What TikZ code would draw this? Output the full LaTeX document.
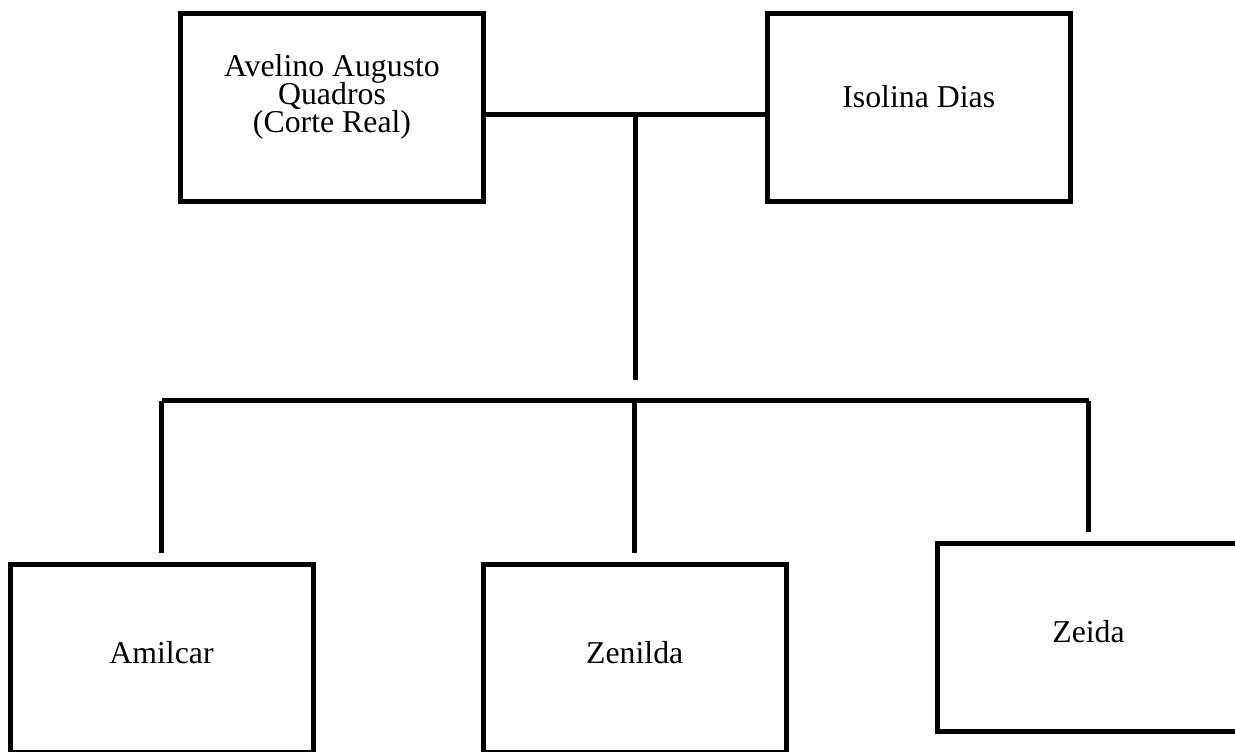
\documentclass[tikz,border=0pt]{standalone}
\usepackage{fontspec}
\setmainfont{Liberation Serif}
\newcommand{\boxfont}{\fontsize{15.9pt}{14pt}\selectfont\setlength{\lineskiplimit}{-20pt}}

\begin{document}
\begin{tikzpicture}[
        x=0.5pt, y=-0.5pt,
        person/.style={
            draw,
            line width=2.5pt,
            minimum width=151.5pt,
            minimum height=94.25pt,
            inner sep=0pt,
            align=center,
            font=\boxfont
        },
        link/.style={line width=2.5pt}
    ]
        \useasboundingbox (0,0) rectangle (1235,751);

        \node[person, text height=48pt, text depth=23.25pt] (avelino) at (332,107.25) {Avelino Augusto\\Quadros\\(Corte Real)};
        \node[person, text height=10pt, text depth=10pt] (isolina) at (918.75,107.5) {Isolina Dias};

        \node[person, text height=12pt, text depth=7pt] (amilcar) at (161.5,658.5) {Amilcar};
        \node[person, text height=12pt, text depth=7pt] (zenilda) at (634.75,658.5) {Zenilda};
        \node[person, text height=12pt, text depth=7pt] (zeida) at (1088.5,637.5) {Zeida};

        \coordinate (couple) at (635,114.7);
        \coordinate (trunk) at (635,380);
        \coordinate (bar) at (635,400.5);

        \draw[link] (avelino.east |- couple) -- (isolina.west |- couple);
        \draw[link] (couple) -- (trunk);
        \draw[link] (amilcar.north |- bar) -- (zeida.north |- bar);
        \foreach \kid in {amilcar,zenilda,zeida} {
            \draw[link] (\kid.north |- bar) -- ([yshift=4.5pt]\kid.north);
        }
    \end{tikzpicture}
\end{document}
